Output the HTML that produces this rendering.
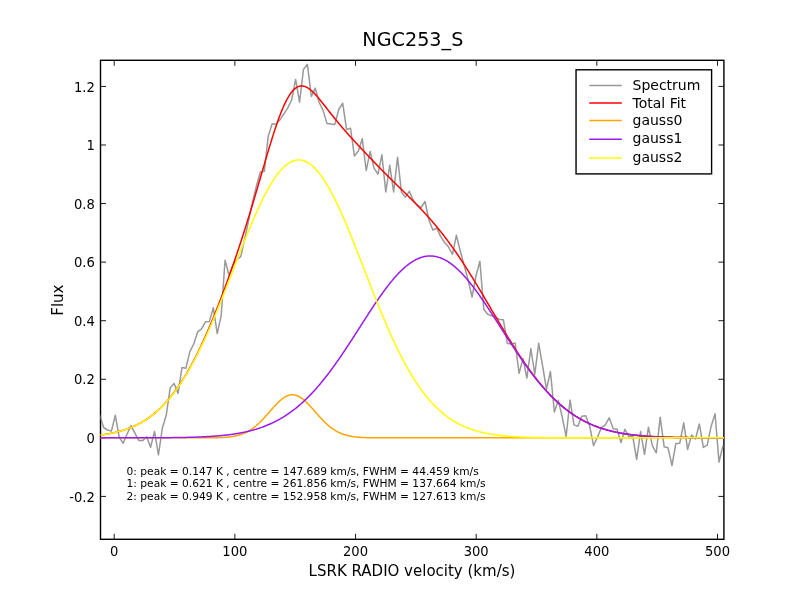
<!DOCTYPE html>
<html><head><meta charset="utf-8"><title>NGC253_S</title>
<style>
html,body{margin:0;padding:0;background:#fff;}
svg{display:block;will-change:transform;}
text{font-family:'DejaVu Sans', 'Liberation Sans', sans-serif;fill:#000;}
</style></head><body>
<svg width="804" height="606" viewBox="0 0 804 606">
<rect x="0" y="0" width="804" height="606" fill="#fff"/>
<defs><clipPath id="ax"><rect x="100.5" y="60.3" width="623.40" height="479.00"/></clipPath></defs>
<path d="M114.20,539.3 V533.80 M114.20,60.3 V65.80 M234.86,539.3 V533.80 M234.86,60.3 V65.80 M355.52,539.3 V533.80 M355.52,60.3 V65.80 M476.18,539.3 V533.80 M476.18,60.3 V65.80 M596.84,539.3 V533.80 M596.84,60.3 V65.80 M717.50,539.3 V533.80 M717.50,60.3 V65.80 M100.5,496.42 H106.00 M723.9,496.42 H718.40 M100.5,437.85 H106.00 M723.9,437.85 H718.40 M100.5,379.28 H106.00 M723.9,379.28 H718.40 M100.5,320.71 H106.00 M723.9,320.71 H718.40 M100.5,262.13 H106.00 M723.9,262.13 H718.40 M100.5,203.56 H106.00 M723.9,203.56 H718.40 M100.5,144.99 H106.00 M723.9,144.99 H718.40 M100.5,86.42 H106.00 M723.9,86.42 H718.40" stroke="#000" stroke-width="0.9" fill="none"/>
<rect x="100.5" y="60.3" width="623.40" height="479.00" fill="none" stroke="#000" stroke-width="1.4"/>
<g clip-path="url(#ax)" fill="none" stroke-linejoin="round" stroke-linecap="butt">
<path d="M99.64,414.60 L103.56,427.50 L107.48,430.00 L111.40,431.10 L115.32,415.30 L119.24,437.30 L123.16,443.30 L127.08,434.00 L131.00,425.60 L134.92,433.20 L138.84,440.60 L142.76,440.60 L146.68,436.80 L150.60,447.20 L154.52,431.40 L158.44,455.00 L162.36,428.00 L166.28,415.00 L170.20,387.80 L174.12,383.50 L178.04,393.40 L181.96,367.60 L185.88,368.30 L189.80,351.80 L193.72,344.00 L197.64,331.90 L201.56,328.80 L205.48,321.80 L209.40,321.40 L213.32,307.60 L217.24,333.60 L221.16,315.70 L225.08,260.20 L229.00,275.00 L232.92,265.00 L236.84,259.50 L240.76,256.60 L244.68,239.20 L248.60,220.60 L252.52,202.00 L256.44,186.00 L260.36,172.00 L264.28,171.30 L268.20,136.40 L272.12,123.80 L276.04,124.30 L279.96,119.80 L283.88,113.90 L287.80,107.90 L291.72,99.70 L295.64,79.40 L299.56,102.20 L303.48,69.40 L307.40,64.30 L311.32,96.50 L315.24,88.10 L319.16,102.50 L323.08,110.40 L327.00,123.60 L330.92,124.00 L334.84,124.40 L338.76,109.50 L342.68,103.20 L346.60,129.60 L350.52,128.30 L354.44,156.00 L358.36,151.00 L362.28,138.80 L366.20,170.50 L370.12,151.50 L374.04,168.20 L377.96,174.20 L381.88,154.80 L385.80,191.90 L389.72,165.30 L393.64,191.90 L397.56,157.20 L401.48,192.30 L405.40,197.10 L409.32,191.40 L413.24,200.30 L417.16,205.20 L421.08,207.50 L425.00,201.50 L428.92,220.00 L432.84,230.00 L436.76,228.10 L440.68,236.60 L444.60,242.50 L448.52,247.00 L452.44,254.30 L456.36,235.30 L460.28,251.00 L464.20,265.50 L468.12,280.00 L472.04,297.00 L475.96,276.00 L479.88,261.30 L483.80,309.20 L487.72,314.30 L491.64,315.70 L495.56,317.50 L499.48,319.50 L503.40,319.80 L507.32,343.50 L511.24,344.00 L515.16,343.10 L519.08,373.30 L523.00,358.80 L526.92,378.00 L530.84,348.50 L534.76,374.40 L538.68,343.30 L542.60,366.00 L546.52,389.20 L550.44,371.50 L554.36,412.00 L558.28,400.40 L562.20,417.00 L566.12,436.60 L570.04,400.00 L573.96,424.90 L577.88,426.20 L581.80,416.30 L585.72,415.80 L589.64,426.00 L593.56,445.70 L597.48,437.00 L601.40,427.70 L605.32,424.80 L609.24,417.80 L613.16,428.70 L617.08,429.20 L621.00,442.60 L624.92,429.30 L628.84,436.40 L632.76,436.40 L636.68,459.50 L640.60,431.40 L644.52,454.30 L648.44,427.20 L652.36,445.60 L656.28,452.80 L660.20,417.20 L664.12,446.70 L668.04,447.80 L671.96,465.50 L675.88,443.50 L679.80,443.20 L683.72,422.80 L687.64,449.40 L691.56,434.90 L695.48,439.00 L699.40,424.00 L703.32,447.40 L707.24,445.10 L711.16,426.20 L715.08,413.80 L719.00,462.10 L722.92,445.80" stroke="#999999" stroke-width="1.5"/>
<path d="M99.29,435.20 L99.90,435.12 L100.50,435.04 L101.10,434.96 L101.71,434.88 L102.31,434.80 L102.91,434.71 L103.52,434.63 L104.12,434.54 L104.72,434.44 L105.33,434.35 L105.93,434.25 L106.53,434.15 L107.14,434.05 L107.74,433.95 L108.34,433.84 L108.95,433.73 L109.55,433.62 L110.15,433.51 L110.76,433.39 L111.36,433.27 L111.96,433.15 L112.57,433.02 L113.17,432.89 L113.77,432.76 L114.38,432.63 L114.98,432.49 L115.58,432.35 L116.19,432.20 L116.79,432.06 L117.39,431.91 L118.00,431.75 L118.60,431.59 L119.20,431.43 L119.81,431.27 L120.41,431.10 L121.01,430.93 L121.62,430.75 L122.22,430.57 L122.82,430.39 L123.43,430.20 L124.03,430.01 L124.63,429.82 L125.24,429.62 L125.84,429.41 L126.44,429.21 L127.05,428.99 L127.65,428.78 L128.25,428.55 L128.86,428.33 L129.46,428.10 L130.06,427.86 L130.66,427.62 L131.27,427.38 L131.87,427.12 L132.47,426.87 L133.08,426.61 L133.68,426.34 L134.28,426.07 L134.89,425.80 L135.49,425.51 L136.09,425.23 L136.70,424.93 L137.30,424.64 L137.90,424.33 L138.51,424.02 L139.11,423.70 L139.71,423.38 L140.32,423.05 L140.92,422.72 L141.52,422.38 L142.13,422.03 L142.73,421.68 L143.33,421.32 L143.94,420.95 L144.54,420.58 L145.14,420.20 L145.75,419.81 L146.35,419.42 L146.95,419.02 L147.56,418.61 L148.16,418.20 L148.76,417.77 L149.37,417.34 L149.97,416.91 L150.57,416.46 L151.18,416.01 L151.78,415.55 L152.38,415.09 L152.99,414.61 L153.59,414.13 L154.19,413.64 L154.80,413.14 L155.40,412.63 L156.00,412.11 L156.61,411.59 L157.21,411.06 L157.81,410.52 L158.42,409.97 L159.02,409.41 L159.62,408.84 L160.23,408.27 L160.83,407.68 L161.43,407.09 L162.04,406.49 L162.64,405.88 L163.24,405.26 L163.85,404.63 L164.45,403.99 L165.05,403.34 L165.66,402.68 L166.26,402.01 L166.86,401.34 L167.47,400.65 L168.07,399.95 L168.67,399.25 L169.28,398.53 L169.88,397.81 L170.48,397.07 L171.09,396.32 L171.69,395.57 L172.29,394.80 L172.90,394.03 L173.50,393.24 L174.10,392.44 L174.71,391.63 L175.31,390.82 L175.91,389.99 L176.52,389.15 L177.12,388.30 L177.72,387.44 L178.33,386.57 L178.93,385.69 L179.53,384.80 L180.14,383.90 L180.74,382.98 L181.34,382.06 L181.95,381.12 L182.55,380.18 L183.15,379.22 L183.76,378.26 L184.36,377.28 L184.96,376.29 L185.57,375.29 L186.17,374.28 L186.77,373.26 L187.38,372.22 L187.98,371.18 L188.58,370.12 L189.19,369.06 L189.79,367.98 L190.39,366.89 L191.00,365.80 L191.60,364.69 L192.20,363.57 L192.80,362.44 L193.41,361.29 L194.01,360.14 L194.61,358.98 L195.22,357.80 L195.82,356.62 L196.42,355.42 L197.03,354.22 L197.63,353.00 L198.23,351.77 L198.84,350.53 L199.44,349.28 L200.04,348.02 L200.65,346.75 L201.25,345.47 L201.85,344.18 L202.46,342.88 L203.06,341.57 L203.66,340.25 L204.27,338.92 L204.87,337.58 L205.47,336.23 L206.08,334.86 L206.68,333.49 L207.28,332.11 L207.89,330.72 L208.49,329.32 L209.09,327.91 L209.70,326.49 L210.30,325.06 L210.90,323.63 L211.51,322.18 L212.11,320.72 L212.71,319.26 L213.32,317.78 L213.92,316.30 L214.52,314.81 L215.13,313.31 L215.73,311.80 L216.33,310.28 L216.94,308.75 L217.54,307.22 L218.14,305.67 L218.75,304.12 L219.35,302.56 L219.95,300.99 L220.56,299.42 L221.16,297.83 L221.76,296.24 L222.37,294.64 L222.97,293.03 L223.57,291.41 L224.18,289.79 L224.78,288.16 L225.38,286.51 L225.99,284.87 L226.59,283.21 L227.19,281.55 L227.80,279.88 L228.40,278.20 L229.00,276.51 L229.61,274.82 L230.21,273.11 L230.81,271.40 L231.42,269.69 L232.02,267.96 L232.62,266.23 L233.23,264.49 L233.83,262.74 L234.43,260.98 L235.04,259.22 L235.64,257.44 L236.24,255.66 L236.85,253.87 L237.45,252.08 L238.05,250.27 L238.66,248.46 L239.26,246.64 L239.86,244.81 L240.47,242.97 L241.07,241.12 L241.67,239.27 L242.28,237.41 L242.88,235.53 L243.48,233.65 L244.09,231.77 L244.69,229.87 L245.29,227.96 L245.90,226.05 L246.50,224.12 L247.10,222.19 L247.71,220.25 L248.31,218.30 L248.91,216.35 L249.52,214.38 L250.12,212.41 L250.72,210.43 L251.32,208.44 L251.93,206.44 L252.53,204.44 L253.13,202.43 L253.74,200.41 L254.34,198.38 L254.94,196.35 L255.55,194.31 L256.15,192.27 L256.75,190.22 L257.36,188.17 L257.96,186.11 L258.56,184.05 L259.17,181.99 L259.77,179.92 L260.37,177.85 L260.98,175.78 L261.58,173.71 L262.18,171.63 L262.79,169.56 L263.39,167.49 L263.99,165.43 L264.60,163.36 L265.20,161.30 L265.80,159.25 L266.41,157.20 L267.01,155.16 L267.61,153.13 L268.22,151.10 L268.82,149.09 L269.42,147.09 L270.03,145.10 L270.63,143.12 L271.23,141.16 L271.84,139.22 L272.44,137.29 L273.04,135.38 L273.65,133.49 L274.25,131.63 L274.85,129.78 L275.46,127.96 L276.06,126.16 L276.66,124.39 L277.27,122.65 L277.87,120.94 L278.47,119.26 L279.08,117.60 L279.68,115.98 L280.28,114.40 L280.89,112.85 L281.49,111.33 L282.09,109.86 L282.70,108.42 L283.30,107.01 L283.90,105.65 L284.51,104.33 L285.11,103.06 L285.71,101.82 L286.32,100.63 L286.92,99.48 L287.52,98.38 L288.13,97.32 L288.73,96.31 L289.33,95.35 L289.94,94.43 L290.54,93.56 L291.14,92.73 L291.75,91.96 L292.35,91.23 L292.95,90.55 L293.56,89.92 L294.16,89.34 L294.76,88.80 L295.37,88.31 L295.97,87.87 L296.57,87.48 L297.18,87.13 L297.78,86.83 L298.38,86.57 L298.99,86.36 L299.59,86.20 L300.19,86.07 L300.80,85.99 L301.40,85.96 L302.00,85.96 L302.61,86.00 L303.21,86.09 L303.81,86.21 L304.42,86.37 L305.02,86.57 L305.62,86.80 L306.23,87.06 L306.83,87.36 L307.43,87.69 L308.04,88.05 L308.64,88.45 L309.24,88.87 L309.85,89.31 L310.45,89.79 L311.05,90.28 L311.65,90.81 L312.26,91.35 L312.86,91.91 L313.46,92.50 L314.07,93.10 L314.67,93.73 L315.27,94.36 L315.88,95.02 L316.48,95.69 L317.08,96.37 L317.69,97.06 L318.29,97.77 L318.89,98.48 L319.50,99.21 L320.10,99.94 L320.70,100.68 L321.31,101.43 L321.91,102.18 L322.51,102.94 L323.12,103.70 L323.72,104.47 L324.32,105.23 L324.93,106.01 L325.53,106.78 L326.13,107.55 L326.74,108.33 L327.34,109.10 L327.94,109.88 L328.55,110.65 L329.15,111.42 L329.75,112.19 L330.36,112.96 L330.96,113.73 L331.56,114.49 L332.17,115.25 L332.77,116.01 L333.37,116.77 L333.98,117.52 L334.58,118.27 L335.18,119.02 L335.79,119.76 L336.39,120.50 L336.99,121.23 L337.60,121.96 L338.20,122.69 L338.80,123.42 L339.41,124.14 L340.01,124.85 L340.61,125.57 L341.22,126.28 L341.82,126.99 L342.42,127.69 L343.03,128.39 L343.63,129.09 L344.23,129.78 L344.84,130.47 L345.44,131.16 L346.04,131.85 L346.65,132.53 L347.25,133.21 L347.85,133.89 L348.46,134.57 L349.06,135.24 L349.66,135.91 L350.27,136.58 L350.87,137.25 L351.47,137.91 L352.08,138.58 L352.68,139.24 L353.28,139.90 L353.89,140.56 L354.49,141.22 L355.09,141.87 L355.70,142.53 L356.30,143.18 L356.90,143.84 L357.51,144.49 L358.11,145.14 L358.71,145.79 L359.32,146.44 L359.92,147.08 L360.52,147.73 L361.13,148.37 L361.73,149.02 L362.33,149.66 L362.94,150.31 L363.54,150.95 L364.14,151.59 L364.75,152.23 L365.35,152.87 L365.95,153.51 L366.56,154.15 L367.16,154.79 L367.76,155.42 L368.37,156.06 L368.97,156.69 L369.57,157.33 L370.18,157.96 L370.78,158.59 L371.38,159.22 L371.98,159.85 L372.59,160.48 L373.19,161.11 L373.79,161.74 L374.40,162.36 L375.00,162.99 L375.60,163.61 L376.21,164.24 L376.81,164.86 L377.41,165.48 L378.02,166.10 L378.62,166.72 L379.22,167.34 L379.83,167.96 L380.43,168.57 L381.03,169.19 L381.64,169.80 L382.24,170.41 L382.84,171.03 L383.45,171.64 L384.05,172.25 L384.65,172.85 L385.26,173.46 L385.86,174.07 L386.46,174.67 L387.07,175.28 L387.67,175.88 L388.27,176.48 L388.88,177.08 L389.48,177.68 L390.08,178.28 L390.69,178.88 L391.29,179.48 L391.89,180.08 L392.50,180.67 L393.10,181.27 L393.70,181.86 L394.31,182.46 L394.91,183.05 L395.51,183.64 L396.12,184.24 L396.72,184.83 L397.32,185.42 L397.93,186.01 L398.53,186.60 L399.13,187.19 L399.74,187.78 L400.34,188.37 L400.94,188.96 L401.55,189.55 L402.15,190.15 L402.75,190.74 L403.36,191.33 L403.96,191.92 L404.56,192.51 L405.17,193.10 L405.77,193.70 L406.37,194.29 L406.98,194.88 L407.58,195.48 L408.18,196.08 L408.79,196.67 L409.39,197.27 L409.99,197.87 L410.60,198.47 L411.20,199.07 L411.80,199.67 L412.41,200.28 L413.01,200.88 L413.61,201.49 L414.22,202.10 L414.82,202.71 L415.42,203.32 L416.03,203.94 L416.63,204.55 L417.23,205.17 L417.84,205.79 L418.44,206.42 L419.04,207.04 L419.65,207.67 L420.25,208.30 L420.85,208.93 L421.46,209.57 L422.06,210.21 L422.66,210.85 L423.27,211.49 L423.87,212.14 L424.47,212.79 L425.08,213.44 L425.68,214.10 L426.28,214.76 L426.89,215.42 L427.49,216.09 L428.09,216.76 L428.70,217.43 L429.30,218.11 L429.90,218.79 L430.51,219.48 L431.11,220.16 L431.71,220.86 L432.31,221.55 L432.92,222.25 L433.52,222.96 L434.12,223.66 L434.73,224.38 L435.33,225.09 L435.93,225.81 L436.54,226.54 L437.14,227.27 L437.74,228.00 L438.35,228.74 L438.95,229.48 L439.55,230.23 L440.16,230.98 L440.76,231.74 L441.36,232.50 L441.97,233.26 L442.57,234.03 L443.17,234.80 L443.78,235.58 L444.38,236.37 L444.98,237.15 L445.59,237.95 L446.19,238.74 L446.79,239.55 L447.40,240.35 L448.00,241.17 L448.60,241.98 L449.21,242.80 L449.81,243.63 L450.41,244.46 L451.02,245.29 L451.62,246.13 L452.22,246.98 L452.83,247.83 L453.43,248.68 L454.03,249.54 L454.64,250.40 L455.24,251.27 L455.84,252.14 L456.45,253.01 L457.05,253.90 L457.65,254.78 L458.26,255.67 L458.86,256.56 L459.46,257.46 L460.07,258.36 L460.67,259.27 L461.27,260.18 L461.88,261.10 L462.48,262.02 L463.08,262.94 L463.69,263.87 L464.29,264.80 L464.89,265.73 L465.50,266.67 L466.10,267.61 L466.70,268.56 L467.31,269.51 L467.91,270.46 L468.51,271.42 L469.12,272.38 L469.72,273.34 L470.32,274.31 L470.93,275.28 L471.53,276.25 L472.13,277.23 L472.74,278.21 L473.34,279.19 L473.94,280.18 L474.55,281.16 L475.15,282.15 L475.75,283.15 L476.36,284.14 L476.96,285.14 L477.56,286.14 L478.17,287.14 L478.77,288.14 L479.37,289.15 L479.98,290.16 L480.58,291.17 L481.18,292.18 L481.79,293.19 L482.39,294.21 L482.99,295.22 L483.60,296.24 L484.20,297.26 L484.80,298.28 L485.41,299.30 L486.01,300.32 L486.61,301.34 L487.22,302.37 L487.82,303.39 L488.42,304.41 L489.03,305.44 L489.63,306.46 L490.23,307.49 L490.84,308.51 L491.44,309.54 L492.04,310.56 L492.64,311.59 L493.25,312.61 L493.85,313.63 L494.45,314.66 L495.06,315.68 L495.66,316.70 L496.26,317.72 L496.87,318.74 L497.47,319.76 L498.07,320.78 L498.68,321.80 L499.28,322.81 L499.88,323.83 L500.49,324.84 L501.09,325.85 L501.69,326.86 L502.30,327.86 L502.90,328.87 L503.50,329.87 L504.11,330.87 L504.71,331.87 L505.31,332.87 L505.92,333.86 L506.52,334.85 L507.12,335.84 L507.73,336.82 L508.33,337.81 L508.93,338.79 L509.54,339.76 L510.14,340.74 L510.74,341.71 L511.35,342.67 L511.95,343.64 L512.55,344.60 L513.16,345.55 L513.76,346.51 L514.36,347.46 L514.97,348.40 L515.57,349.34 L516.17,350.28 L516.78,351.21 L517.38,352.14 L517.98,353.07 L518.59,353.99 L519.19,354.91 L519.79,355.82 L520.40,356.73 L521.00,357.63 L521.60,358.53 L522.21,359.42 L522.81,360.31 L523.41,361.20 L524.02,362.08 L524.62,362.95 L525.22,363.82 L525.83,364.69 L526.43,365.55 L527.03,366.40 L527.64,367.25 L528.24,368.10 L528.84,368.93 L529.45,369.77 L530.05,370.60 L530.65,371.42 L531.26,372.24 L531.86,373.05 L532.46,373.85 L533.07,374.66 L533.67,375.45 L534.27,376.24 L534.88,377.02 L535.48,377.80 L536.08,378.57 L536.69,379.34 L537.29,380.10 L537.89,380.85 L538.50,381.60 L539.10,382.35 L539.70,383.08 L540.31,383.81 L540.91,384.54 L541.51,385.26 L542.12,385.97 L542.72,386.68 L543.32,387.38 L543.93,388.07 L544.53,388.76 L545.13,389.45 L545.74,390.12 L546.34,390.79 L546.94,391.46 L547.55,392.11 L548.15,392.77 L548.75,393.41 L549.36,394.05 L549.96,394.69 L550.56,395.31 L551.17,395.94 L551.77,396.55 L552.37,397.16 L552.97,397.76 L553.58,398.36 L554.18,398.95 L554.78,399.54 L555.39,400.11 L555.99,400.69 L556.59,401.25 L557.20,401.81 L557.80,402.37 L558.40,402.92 L559.01,403.46 L559.61,404.00 L560.21,404.53 L560.82,405.05 L561.42,405.57 L562.02,406.08 L562.63,406.59 L563.23,407.09 L563.83,407.58 L564.44,408.07 L565.04,408.56 L565.64,409.03 L566.25,409.51 L566.85,409.97 L567.45,410.43 L568.06,410.89 L568.66,411.34 L569.26,411.78 L569.87,412.22 L570.47,412.65 L571.07,413.08 L571.68,413.50 L572.28,413.92 L572.88,414.33 L573.49,414.73 L574.09,415.13 L574.69,415.53 L575.30,415.92 L575.90,416.30 L576.50,416.68 L577.11,417.05 L577.71,417.42 L578.31,417.79 L578.92,418.14 L579.52,418.50 L580.12,418.85 L580.73,419.19 L581.33,419.53 L581.93,419.86 L582.54,420.19 L583.14,420.52 L583.74,420.84 L584.35,421.15 L584.95,421.46 L585.55,421.77 L586.16,422.07 L586.76,422.36 L587.36,422.66 L587.97,422.94 L588.57,423.23 L589.17,423.51 L589.78,423.78 L590.38,424.05 L590.98,424.32 L591.59,424.58 L592.19,424.84 L592.79,425.09 L593.40,425.34 L594.00,425.59 L594.60,425.83 L595.21,426.07 L595.81,426.30 L596.41,426.53 L597.02,426.76 L597.62,426.98 L598.22,427.20 L598.83,427.42 L599.43,427.63 L600.03,427.84 L600.64,428.04 L601.24,428.24 L601.84,428.44 L602.45,428.63 L603.05,428.82 L603.65,429.01 L604.26,429.20 L604.86,429.38 L605.46,429.56 L606.07,429.73 L606.67,429.90 L607.27,430.07 L607.88,430.24 L608.48,430.40 L609.08,430.56 L609.69,430.72 L610.29,430.87 L610.89,431.02 L611.50,431.17 L612.10,431.31 L612.70,431.46 L613.30,431.60 L613.91,431.74 L614.51,431.87 L615.11,432.00 L615.72,432.13 L616.32,432.26 L616.92,432.39 L617.53,432.51 L618.13,432.63 L618.73,432.75 L619.34,432.86 L619.94,432.97 L620.54,433.09 L621.15,433.20 L621.75,433.30 L622.35,433.41 L622.96,433.51 L623.56,433.61 L624.16,433.71 L624.77,433.80 L625.37,433.90 L625.97,433.99 L626.58,434.08 L627.18,434.17 L627.78,434.26 L628.39,434.34 L628.99,434.43 L629.59,434.51 L630.20,434.59 L630.80,434.67 L631.40,434.74 L632.01,434.82 L632.61,434.89 L633.21,434.96 L633.82,435.03 L634.42,435.10 L635.02,435.17 L635.63,435.24 L636.23,435.30 L636.83,435.36 L637.44,435.42 L638.04,435.49 L638.64,435.54 L639.25,435.60 L639.85,435.66 L640.45,435.71 L641.06,435.77 L641.66,435.82 L642.26,435.87 L642.87,435.92 L643.47,435.97 L644.07,436.02 L644.68,436.07 L645.28,436.11 L645.88,436.16 L646.49,436.20 L647.09,436.24 L647.69,436.28 L648.30,436.33 L648.90,436.37 L649.50,436.40 L650.11,436.44 L650.71,436.48 L651.31,436.52 L651.92,436.55 L652.52,436.59 L653.12,436.62 L653.73,436.65 L654.33,436.68 L654.93,436.72 L655.54,436.75 L656.14,436.78 L656.74,436.80 L657.35,436.83 L657.95,436.86 L658.55,436.89 L659.16,436.91 L659.76,436.94 L660.36,436.96 L660.97,436.99 L661.57,437.01 L662.17,437.04 L662.78,437.06 L663.38,437.08 L663.98,437.10 L664.59,437.12 L665.19,437.14 L665.79,437.16 L666.40,437.18 L667.00,437.20 L667.60,437.22 L668.21,437.24 L668.81,437.26 L669.41,437.27 L670.02,437.29 L670.62,437.31 L671.22,437.32 L671.83,437.34 L672.43,437.35 L673.03,437.37 L673.63,437.38 L674.24,437.39 L674.84,437.41 L675.44,437.42 L676.05,437.43 L676.65,437.44 L677.25,437.46 L677.86,437.47 L678.46,437.48 L679.06,437.49 L679.67,437.50 L680.27,437.51 L680.87,437.52 L681.48,437.53 L682.08,437.54 L682.68,437.55 L683.29,437.56 L683.89,437.57 L684.49,437.58 L685.10,437.59 L685.70,437.59 L686.30,437.60 L686.91,437.61 L687.51,437.62 L688.11,437.62 L688.72,437.63 L689.32,437.64 L689.92,437.64 L690.53,437.65 L691.13,437.66 L691.73,437.66 L692.34,437.67 L692.94,437.67 L693.54,437.68 L694.15,437.68 L694.75,437.69 L695.35,437.69 L695.96,437.70 L696.56,437.70 L697.16,437.71 L697.77,437.71 L698.37,437.72 L698.97,437.72 L699.58,437.73 L700.18,437.73 L700.78,437.73 L701.39,437.74 L701.99,437.74 L702.59,437.75 L703.20,437.75 L703.80,437.75 L704.40,437.76 L705.01,437.76 L705.61,437.76 L706.21,437.76 L706.82,437.77 L707.42,437.77 L708.02,437.77 L708.63,437.77 L709.23,437.78 L709.83,437.78 L710.44,437.78 L711.04,437.78 L711.64,437.79 L712.25,437.79 L712.85,437.79 L713.45,437.79 L714.06,437.79 L714.66,437.80 L715.26,437.80 L715.87,437.80 L716.47,437.80 L717.07,437.80 L717.68,437.81 L718.28,437.81 L718.88,437.81 L719.49,437.81 L720.09,437.81 L720.69,437.81 L721.30,437.81 L721.90,437.81 L722.50,437.82 L723.11,437.82 L723.71,437.82 L724.31,437.82 L724.92,437.82" stroke="#ff0000" stroke-width="1.5"/>
<path d="M99.29,437.85 L99.90,437.85 L100.50,437.85 L101.10,437.85 L101.71,437.85 L102.31,437.85 L102.91,437.85 L103.52,437.85 L104.12,437.85 L104.72,437.85 L105.33,437.85 L105.93,437.85 L106.53,437.85 L107.14,437.85 L107.74,437.85 L108.34,437.85 L108.95,437.85 L109.55,437.85 L110.15,437.85 L110.76,437.85 L111.36,437.85 L111.96,437.85 L112.57,437.85 L113.17,437.85 L113.77,437.85 L114.38,437.85 L114.98,437.85 L115.58,437.85 L116.19,437.85 L116.79,437.85 L117.39,437.85 L118.00,437.85 L118.60,437.85 L119.20,437.85 L119.81,437.85 L120.41,437.85 L121.01,437.85 L121.62,437.85 L122.22,437.85 L122.82,437.85 L123.43,437.85 L124.03,437.85 L124.63,437.85 L125.24,437.85 L125.84,437.85 L126.44,437.85 L127.05,437.85 L127.65,437.85 L128.25,437.85 L128.86,437.85 L129.46,437.85 L130.06,437.85 L130.66,437.85 L131.27,437.85 L131.87,437.85 L132.47,437.85 L133.08,437.85 L133.68,437.85 L134.28,437.85 L134.89,437.85 L135.49,437.85 L136.09,437.85 L136.70,437.85 L137.30,437.85 L137.90,437.85 L138.51,437.85 L139.11,437.85 L139.71,437.85 L140.32,437.85 L140.92,437.85 L141.52,437.85 L142.13,437.85 L142.73,437.85 L143.33,437.85 L143.94,437.85 L144.54,437.85 L145.14,437.85 L145.75,437.85 L146.35,437.85 L146.95,437.85 L147.56,437.85 L148.16,437.85 L148.76,437.85 L149.37,437.85 L149.97,437.85 L150.57,437.85 L151.18,437.85 L151.78,437.85 L152.38,437.85 L152.99,437.85 L153.59,437.85 L154.19,437.85 L154.80,437.85 L155.40,437.85 L156.00,437.85 L156.61,437.85 L157.21,437.85 L157.81,437.85 L158.42,437.85 L159.02,437.85 L159.62,437.85 L160.23,437.85 L160.83,437.85 L161.43,437.85 L162.04,437.85 L162.64,437.85 L163.24,437.85 L163.85,437.85 L164.45,437.85 L165.05,437.85 L165.66,437.85 L166.26,437.85 L166.86,437.85 L167.47,437.85 L168.07,437.85 L168.67,437.85 L169.28,437.85 L169.88,437.85 L170.48,437.85 L171.09,437.85 L171.69,437.85 L172.29,437.85 L172.90,437.85 L173.50,437.85 L174.10,437.85 L174.71,437.85 L175.31,437.85 L175.91,437.85 L176.52,437.85 L177.12,437.85 L177.72,437.85 L178.33,437.85 L178.93,437.85 L179.53,437.85 L180.14,437.85 L180.74,437.85 L181.34,437.85 L181.95,437.85 L182.55,437.85 L183.15,437.85 L183.76,437.85 L184.36,437.85 L184.96,437.85 L185.57,437.85 L186.17,437.85 L186.77,437.85 L187.38,437.85 L187.98,437.85 L188.58,437.85 L189.19,437.85 L189.79,437.85 L190.39,437.85 L191.00,437.85 L191.60,437.85 L192.20,437.85 L192.80,437.85 L193.41,437.85 L194.01,437.85 L194.61,437.85 L195.22,437.85 L195.82,437.84 L196.42,437.84 L197.03,437.84 L197.63,437.84 L198.23,437.84 L198.84,437.84 L199.44,437.84 L200.04,437.84 L200.65,437.84 L201.25,437.84 L201.85,437.83 L202.46,437.83 L203.06,437.83 L203.66,437.83 L204.27,437.83 L204.87,437.82 L205.47,437.82 L206.08,437.82 L206.68,437.81 L207.28,437.81 L207.89,437.81 L208.49,437.80 L209.09,437.80 L209.70,437.79 L210.30,437.78 L210.90,437.78 L211.51,437.77 L212.11,437.76 L212.71,437.76 L213.32,437.75 L213.92,437.74 L214.52,437.73 L215.13,437.71 L215.73,437.70 L216.33,437.69 L216.94,437.67 L217.54,437.66 L218.14,437.64 L218.75,437.62 L219.35,437.60 L219.95,437.58 L220.56,437.55 L221.16,437.53 L221.76,437.50 L222.37,437.47 L222.97,437.44 L223.57,437.40 L224.18,437.36 L224.78,437.32 L225.38,437.28 L225.99,437.24 L226.59,437.19 L227.19,437.13 L227.80,437.08 L228.40,437.02 L229.00,436.95 L229.61,436.89 L230.21,436.81 L230.81,436.74 L231.42,436.65 L232.02,436.57 L232.62,436.47 L233.23,436.38 L233.83,436.27 L234.43,436.16 L235.04,436.04 L235.64,435.92 L236.24,435.79 L236.85,435.65 L237.45,435.50 L238.05,435.35 L238.66,435.19 L239.26,435.02 L239.86,434.84 L240.47,434.65 L241.07,434.45 L241.67,434.24 L242.28,434.03 L242.88,433.80 L243.48,433.56 L244.09,433.31 L244.69,433.05 L245.29,432.78 L245.90,432.49 L246.50,432.20 L247.10,431.89 L247.71,431.57 L248.31,431.24 L248.91,430.89 L249.52,430.53 L250.12,430.16 L250.72,429.78 L251.32,429.38 L251.93,428.97 L252.53,428.54 L253.13,428.10 L253.74,427.65 L254.34,427.19 L254.94,426.71 L255.55,426.22 L256.15,425.71 L256.75,425.19 L257.36,424.66 L257.96,424.12 L258.56,423.56 L259.17,423.00 L259.77,422.42 L260.37,421.83 L260.98,421.22 L261.58,420.61 L262.18,419.99 L262.79,419.36 L263.39,418.72 L263.99,418.07 L264.60,417.41 L265.20,416.74 L265.80,416.07 L266.41,415.40 L267.01,414.72 L267.61,414.03 L268.22,413.35 L268.82,412.66 L269.42,411.96 L270.03,411.27 L270.63,410.58 L271.23,409.89 L271.84,409.21 L272.44,408.52 L273.04,407.85 L273.65,407.17 L274.25,406.51 L274.85,405.85 L275.46,405.20 L276.06,404.57 L276.66,403.94 L277.27,403.33 L277.87,402.72 L278.47,402.14 L279.08,401.57 L279.68,401.02 L280.28,400.48 L280.89,399.96 L281.49,399.47 L282.09,398.99 L282.70,398.53 L283.30,398.10 L283.90,397.69 L284.51,397.31 L285.11,396.95 L285.71,396.62 L286.32,396.31 L286.92,396.03 L287.52,395.78 L288.13,395.55 L288.73,395.36 L289.33,395.19 L289.94,395.05 L290.54,394.94 L291.14,394.87 L291.75,394.82 L292.35,394.80 L292.95,394.81 L293.56,394.85 L294.16,394.93 L294.76,395.03 L295.37,395.16 L295.97,395.32 L296.57,395.52 L297.18,395.73 L297.78,395.98 L298.38,396.26 L298.99,396.56 L299.59,396.89 L300.19,397.24 L300.80,397.63 L301.40,398.03 L302.00,398.46 L302.61,398.91 L303.21,399.38 L303.81,399.88 L304.42,400.39 L305.02,400.92 L305.62,401.47 L306.23,402.04 L306.83,402.62 L307.43,403.22 L308.04,403.83 L308.64,404.46 L309.24,405.09 L309.85,405.74 L310.45,406.39 L311.05,407.06 L311.65,407.73 L312.26,408.41 L312.86,409.09 L313.46,409.77 L314.07,410.46 L314.67,411.15 L315.27,411.84 L315.88,412.54 L316.48,413.23 L317.08,413.91 L317.69,414.60 L318.29,415.28 L318.89,415.96 L319.50,416.63 L320.10,417.29 L320.70,417.95 L321.31,418.60 L321.91,419.25 L322.51,419.88 L323.12,420.50 L323.72,421.12 L324.32,421.72 L324.93,422.32 L325.53,422.90 L326.13,423.47 L326.74,424.03 L327.34,424.57 L327.94,425.10 L328.55,425.62 L329.15,426.13 L329.75,426.63 L330.36,427.11 L330.96,427.57 L331.56,428.03 L332.17,428.47 L332.77,428.89 L333.37,429.31 L333.98,429.71 L334.58,430.10 L335.18,430.47 L335.79,430.83 L336.39,431.18 L336.99,431.51 L337.60,431.83 L338.20,432.14 L338.80,432.44 L339.41,432.73 L340.01,433.00 L340.61,433.26 L341.22,433.52 L341.82,433.76 L342.42,433.99 L343.03,434.21 L343.63,434.42 L344.23,434.62 L344.84,434.81 L345.44,434.99 L346.04,435.16 L346.65,435.32 L347.25,435.48 L347.85,435.62 L348.46,435.76 L349.06,435.90 L349.66,436.02 L350.27,436.14 L350.87,436.25 L351.47,436.36 L352.08,436.46 L352.68,436.55 L353.28,436.64 L353.89,436.72 L354.49,436.80 L355.09,436.87 L355.70,436.94 L356.30,437.01 L356.90,437.07 L357.51,437.12 L358.11,437.18 L358.71,437.23 L359.32,437.27 L359.92,437.32 L360.52,437.36 L361.13,437.40 L361.73,437.43 L362.33,437.46 L362.94,437.49 L363.54,437.52 L364.14,437.55 L364.75,437.57 L365.35,437.59 L365.95,437.62 L366.56,437.63 L367.16,437.65 L367.76,437.67 L368.37,437.68 L368.97,437.70 L369.57,437.71 L370.18,437.72 L370.78,437.73 L371.38,437.74 L371.98,437.75 L372.59,437.76 L373.19,437.77 L373.79,437.78 L374.40,437.78 L375.00,437.79 L375.60,437.80 L376.21,437.80 L376.81,437.81 L377.41,437.81 L378.02,437.81 L378.62,437.82 L379.22,437.82 L379.83,437.82 L380.43,437.83 L381.03,437.83 L381.64,437.83 L382.24,437.83 L382.84,437.83 L383.45,437.84 L384.05,437.84 L384.65,437.84 L385.26,437.84 L385.86,437.84 L386.46,437.84 L387.07,437.84 L387.67,437.84 L388.27,437.84 L388.88,437.84 L389.48,437.85 L390.08,437.85 L390.69,437.85 L391.29,437.85 L391.89,437.85 L392.50,437.85 L393.10,437.85 L393.70,437.85 L394.31,437.85 L394.91,437.85 L395.51,437.85 L396.12,437.85 L396.72,437.85 L397.32,437.85 L397.93,437.85 L398.53,437.85 L399.13,437.85 L399.74,437.85 L400.34,437.85 L400.94,437.85 L401.55,437.85 L402.15,437.85 L402.75,437.85 L403.36,437.85 L403.96,437.85 L404.56,437.85 L405.17,437.85 L405.77,437.85 L406.37,437.85 L406.98,437.85 L407.58,437.85 L408.18,437.85 L408.79,437.85 L409.39,437.85 L409.99,437.85 L410.60,437.85 L411.20,437.85 L411.80,437.85 L412.41,437.85 L413.01,437.85 L413.61,437.85 L414.22,437.85 L414.82,437.85 L415.42,437.85 L416.03,437.85 L416.63,437.85 L417.23,437.85 L417.84,437.85 L418.44,437.85 L419.04,437.85 L419.65,437.85 L420.25,437.85 L420.85,437.85 L421.46,437.85 L422.06,437.85 L422.66,437.85 L423.27,437.85 L423.87,437.85 L424.47,437.85 L425.08,437.85 L425.68,437.85 L426.28,437.85 L426.89,437.85 L427.49,437.85 L428.09,437.85 L428.70,437.85 L429.30,437.85 L429.90,437.85 L430.51,437.85 L431.11,437.85 L431.71,437.85 L432.31,437.85 L432.92,437.85 L433.52,437.85 L434.12,437.85 L434.73,437.85 L435.33,437.85 L435.93,437.85 L436.54,437.85 L437.14,437.85 L437.74,437.85 L438.35,437.85 L438.95,437.85 L439.55,437.85 L440.16,437.85 L440.76,437.85 L441.36,437.85 L441.97,437.85 L442.57,437.85 L443.17,437.85 L443.78,437.85 L444.38,437.85 L444.98,437.85 L445.59,437.85 L446.19,437.85 L446.79,437.85 L447.40,437.85 L448.00,437.85 L448.60,437.85 L449.21,437.85 L449.81,437.85 L450.41,437.85 L451.02,437.85 L451.62,437.85 L452.22,437.85 L452.83,437.85 L453.43,437.85 L454.03,437.85 L454.64,437.85 L455.24,437.85 L455.84,437.85 L456.45,437.85 L457.05,437.85 L457.65,437.85 L458.26,437.85 L458.86,437.85 L459.46,437.85 L460.07,437.85 L460.67,437.85 L461.27,437.85 L461.88,437.85 L462.48,437.85 L463.08,437.85 L463.69,437.85 L464.29,437.85 L464.89,437.85 L465.50,437.85 L466.10,437.85 L466.70,437.85 L467.31,437.85 L467.91,437.85 L468.51,437.85 L469.12,437.85 L469.72,437.85 L470.32,437.85 L470.93,437.85 L471.53,437.85 L472.13,437.85 L472.74,437.85 L473.34,437.85 L473.94,437.85 L474.55,437.85 L475.15,437.85 L475.75,437.85 L476.36,437.85 L476.96,437.85 L477.56,437.85 L478.17,437.85 L478.77,437.85 L479.37,437.85 L479.98,437.85 L480.58,437.85 L481.18,437.85 L481.79,437.85 L482.39,437.85 L482.99,437.85 L483.60,437.85 L484.20,437.85 L484.80,437.85 L485.41,437.85 L486.01,437.85 L486.61,437.85 L487.22,437.85 L487.82,437.85 L488.42,437.85 L489.03,437.85 L489.63,437.85 L490.23,437.85 L490.84,437.85 L491.44,437.85 L492.04,437.85 L492.64,437.85 L493.25,437.85 L493.85,437.85 L494.45,437.85 L495.06,437.85 L495.66,437.85 L496.26,437.85 L496.87,437.85 L497.47,437.85 L498.07,437.85 L498.68,437.85 L499.28,437.85 L499.88,437.85 L500.49,437.85 L501.09,437.85 L501.69,437.85 L502.30,437.85 L502.90,437.85 L503.50,437.85 L504.11,437.85 L504.71,437.85 L505.31,437.85 L505.92,437.85 L506.52,437.85 L507.12,437.85 L507.73,437.85 L508.33,437.85 L508.93,437.85 L509.54,437.85 L510.14,437.85 L510.74,437.85 L511.35,437.85 L511.95,437.85 L512.55,437.85 L513.16,437.85 L513.76,437.85 L514.36,437.85 L514.97,437.85 L515.57,437.85 L516.17,437.85 L516.78,437.85 L517.38,437.85 L517.98,437.85 L518.59,437.85 L519.19,437.85 L519.79,437.85 L520.40,437.85 L521.00,437.85 L521.60,437.85 L522.21,437.85 L522.81,437.85 L523.41,437.85 L524.02,437.85 L524.62,437.85 L525.22,437.85 L525.83,437.85 L526.43,437.85 L527.03,437.85 L527.64,437.85 L528.24,437.85 L528.84,437.85 L529.45,437.85 L530.05,437.85 L530.65,437.85 L531.26,437.85 L531.86,437.85 L532.46,437.85 L533.07,437.85 L533.67,437.85 L534.27,437.85 L534.88,437.85 L535.48,437.85 L536.08,437.85 L536.69,437.85 L537.29,437.85 L537.89,437.85 L538.50,437.85 L539.10,437.85 L539.70,437.85 L540.31,437.85 L540.91,437.85 L541.51,437.85 L542.12,437.85 L542.72,437.85 L543.32,437.85 L543.93,437.85 L544.53,437.85 L545.13,437.85 L545.74,437.85 L546.34,437.85 L546.94,437.85 L547.55,437.85 L548.15,437.85 L548.75,437.85 L549.36,437.85 L549.96,437.85 L550.56,437.85 L551.17,437.85 L551.77,437.85 L552.37,437.85 L552.97,437.85 L553.58,437.85 L554.18,437.85 L554.78,437.85 L555.39,437.85 L555.99,437.85 L556.59,437.85 L557.20,437.85 L557.80,437.85 L558.40,437.85 L559.01,437.85 L559.61,437.85 L560.21,437.85 L560.82,437.85 L561.42,437.85 L562.02,437.85 L562.63,437.85 L563.23,437.85 L563.83,437.85 L564.44,437.85 L565.04,437.85 L565.64,437.85 L566.25,437.85 L566.85,437.85 L567.45,437.85 L568.06,437.85 L568.66,437.85 L569.26,437.85 L569.87,437.85 L570.47,437.85 L571.07,437.85 L571.68,437.85 L572.28,437.85 L572.88,437.85 L573.49,437.85 L574.09,437.85 L574.69,437.85 L575.30,437.85 L575.90,437.85 L576.50,437.85 L577.11,437.85 L577.71,437.85 L578.31,437.85 L578.92,437.85 L579.52,437.85 L580.12,437.85 L580.73,437.85 L581.33,437.85 L581.93,437.85 L582.54,437.85 L583.14,437.85 L583.74,437.85 L584.35,437.85 L584.95,437.85 L585.55,437.85 L586.16,437.85 L586.76,437.85 L587.36,437.85 L587.97,437.85 L588.57,437.85 L589.17,437.85 L589.78,437.85 L590.38,437.85 L590.98,437.85 L591.59,437.85 L592.19,437.85 L592.79,437.85 L593.40,437.85 L594.00,437.85 L594.60,437.85 L595.21,437.85 L595.81,437.85 L596.41,437.85 L597.02,437.85 L597.62,437.85 L598.22,437.85 L598.83,437.85 L599.43,437.85 L600.03,437.85 L600.64,437.85 L601.24,437.85 L601.84,437.85 L602.45,437.85 L603.05,437.85 L603.65,437.85 L604.26,437.85 L604.86,437.85 L605.46,437.85 L606.07,437.85 L606.67,437.85 L607.27,437.85 L607.88,437.85 L608.48,437.85 L609.08,437.85 L609.69,437.85 L610.29,437.85 L610.89,437.85 L611.50,437.85 L612.10,437.85 L612.70,437.85 L613.30,437.85 L613.91,437.85 L614.51,437.85 L615.11,437.85 L615.72,437.85 L616.32,437.85 L616.92,437.85 L617.53,437.85 L618.13,437.85 L618.73,437.85 L619.34,437.85 L619.94,437.85 L620.54,437.85 L621.15,437.85 L621.75,437.85 L622.35,437.85 L622.96,437.85 L623.56,437.85 L624.16,437.85 L624.77,437.85 L625.37,437.85 L625.97,437.85 L626.58,437.85 L627.18,437.85 L627.78,437.85 L628.39,437.85 L628.99,437.85 L629.59,437.85 L630.20,437.85 L630.80,437.85 L631.40,437.85 L632.01,437.85 L632.61,437.85 L633.21,437.85 L633.82,437.85 L634.42,437.85 L635.02,437.85 L635.63,437.85 L636.23,437.85 L636.83,437.85 L637.44,437.85 L638.04,437.85 L638.64,437.85 L639.25,437.85 L639.85,437.85 L640.45,437.85 L641.06,437.85 L641.66,437.85 L642.26,437.85 L642.87,437.85 L643.47,437.85 L644.07,437.85 L644.68,437.85 L645.28,437.85 L645.88,437.85 L646.49,437.85 L647.09,437.85 L647.69,437.85 L648.30,437.85 L648.90,437.85 L649.50,437.85 L650.11,437.85 L650.71,437.85 L651.31,437.85 L651.92,437.85 L652.52,437.85 L653.12,437.85 L653.73,437.85 L654.33,437.85 L654.93,437.85 L655.54,437.85 L656.14,437.85 L656.74,437.85 L657.35,437.85 L657.95,437.85 L658.55,437.85 L659.16,437.85 L659.76,437.85 L660.36,437.85 L660.97,437.85 L661.57,437.85 L662.17,437.85 L662.78,437.85 L663.38,437.85 L663.98,437.85 L664.59,437.85 L665.19,437.85 L665.79,437.85 L666.40,437.85 L667.00,437.85 L667.60,437.85 L668.21,437.85 L668.81,437.85 L669.41,437.85 L670.02,437.85 L670.62,437.85 L671.22,437.85 L671.83,437.85 L672.43,437.85 L673.03,437.85 L673.63,437.85 L674.24,437.85 L674.84,437.85 L675.44,437.85 L676.05,437.85 L676.65,437.85 L677.25,437.85 L677.86,437.85 L678.46,437.85 L679.06,437.85 L679.67,437.85 L680.27,437.85 L680.87,437.85 L681.48,437.85 L682.08,437.85 L682.68,437.85 L683.29,437.85 L683.89,437.85 L684.49,437.85 L685.10,437.85 L685.70,437.85 L686.30,437.85 L686.91,437.85 L687.51,437.85 L688.11,437.85 L688.72,437.85 L689.32,437.85 L689.92,437.85 L690.53,437.85 L691.13,437.85 L691.73,437.85 L692.34,437.85 L692.94,437.85 L693.54,437.85 L694.15,437.85 L694.75,437.85 L695.35,437.85 L695.96,437.85 L696.56,437.85 L697.16,437.85 L697.77,437.85 L698.37,437.85 L698.97,437.85 L699.58,437.85 L700.18,437.85 L700.78,437.85 L701.39,437.85 L701.99,437.85 L702.59,437.85 L703.20,437.85 L703.80,437.85 L704.40,437.85 L705.01,437.85 L705.61,437.85 L706.21,437.85 L706.82,437.85 L707.42,437.85 L708.02,437.85 L708.63,437.85 L709.23,437.85 L709.83,437.85 L710.44,437.85 L711.04,437.85 L711.64,437.85 L712.25,437.85 L712.85,437.85 L713.45,437.85 L714.06,437.85 L714.66,437.85 L715.26,437.85 L715.87,437.85 L716.47,437.85 L717.07,437.85 L717.68,437.85 L718.28,437.85 L718.88,437.85 L719.49,437.85 L720.09,437.85 L720.69,437.85 L721.30,437.85 L721.90,437.85 L722.50,437.85 L723.11,437.85 L723.71,437.85 L724.31,437.85 L724.92,437.85" stroke="#ffa500" stroke-width="1.5"/>
<path d="M99.29,437.85 L99.90,437.85 L100.50,437.85 L101.10,437.85 L101.71,437.85 L102.31,437.85 L102.91,437.85 L103.52,437.85 L104.12,437.85 L104.72,437.85 L105.33,437.85 L105.93,437.85 L106.53,437.85 L107.14,437.84 L107.74,437.84 L108.34,437.84 L108.95,437.84 L109.55,437.84 L110.15,437.84 L110.76,437.84 L111.36,437.84 L111.96,437.84 L112.57,437.84 L113.17,437.84 L113.77,437.84 L114.38,437.84 L114.98,437.84 L115.58,437.84 L116.19,437.84 L116.79,437.84 L117.39,437.84 L118.00,437.84 L118.60,437.84 L119.20,437.84 L119.81,437.84 L120.41,437.84 L121.01,437.84 L121.62,437.84 L122.22,437.84 L122.82,437.84 L123.43,437.84 L124.03,437.84 L124.63,437.83 L125.24,437.83 L125.84,437.83 L126.44,437.83 L127.05,437.83 L127.65,437.83 L128.25,437.83 L128.86,437.83 L129.46,437.83 L130.06,437.83 L130.66,437.83 L131.27,437.83 L131.87,437.83 L132.47,437.83 L133.08,437.82 L133.68,437.82 L134.28,437.82 L134.89,437.82 L135.49,437.82 L136.09,437.82 L136.70,437.82 L137.30,437.82 L137.90,437.82 L138.51,437.81 L139.11,437.81 L139.71,437.81 L140.32,437.81 L140.92,437.81 L141.52,437.81 L142.13,437.81 L142.73,437.80 L143.33,437.80 L143.94,437.80 L144.54,437.80 L145.14,437.80 L145.75,437.80 L146.35,437.79 L146.95,437.79 L147.56,437.79 L148.16,437.79 L148.76,437.79 L149.37,437.78 L149.97,437.78 L150.57,437.78 L151.18,437.78 L151.78,437.77 L152.38,437.77 L152.99,437.77 L153.59,437.77 L154.19,437.76 L154.80,437.76 L155.40,437.76 L156.00,437.75 L156.61,437.75 L157.21,437.75 L157.81,437.74 L158.42,437.74 L159.02,437.74 L159.62,437.73 L160.23,437.73 L160.83,437.73 L161.43,437.72 L162.04,437.72 L162.64,437.71 L163.24,437.71 L163.85,437.70 L164.45,437.70 L165.05,437.69 L165.66,437.69 L166.26,437.68 L166.86,437.68 L167.47,437.67 L168.07,437.67 L168.67,437.66 L169.28,437.66 L169.88,437.65 L170.48,437.64 L171.09,437.64 L171.69,437.63 L172.29,437.62 L172.90,437.61 L173.50,437.61 L174.10,437.60 L174.71,437.59 L175.31,437.58 L175.91,437.58 L176.52,437.57 L177.12,437.56 L177.72,437.55 L178.33,437.54 L178.93,437.53 L179.53,437.52 L180.14,437.51 L180.74,437.50 L181.34,437.49 L181.95,437.48 L182.55,437.47 L183.15,437.45 L183.76,437.44 L184.36,437.43 L184.96,437.42 L185.57,437.40 L186.17,437.39 L186.77,437.38 L187.38,437.36 L187.98,437.35 L188.58,437.33 L189.19,437.32 L189.79,437.30 L190.39,437.29 L191.00,437.27 L191.60,437.25 L192.20,437.24 L192.80,437.22 L193.41,437.20 L194.01,437.18 L194.61,437.16 L195.22,437.14 L195.82,437.12 L196.42,437.10 L197.03,437.08 L197.63,437.06 L198.23,437.03 L198.84,437.01 L199.44,436.99 L200.04,436.96 L200.65,436.94 L201.25,436.91 L201.85,436.88 L202.46,436.86 L203.06,436.83 L203.66,436.80 L204.27,436.77 L204.87,436.74 L205.47,436.71 L206.08,436.68 L206.68,436.65 L207.28,436.61 L207.89,436.58 L208.49,436.55 L209.09,436.51 L209.70,436.47 L210.30,436.44 L210.90,436.40 L211.51,436.36 L212.11,436.32 L212.71,436.28 L213.32,436.24 L213.92,436.19 L214.52,436.15 L215.13,436.10 L215.73,436.06 L216.33,436.01 L216.94,435.96 L217.54,435.91 L218.14,435.86 L218.75,435.81 L219.35,435.76 L219.95,435.70 L220.56,435.65 L221.16,435.59 L221.76,435.54 L222.37,435.48 L222.97,435.42 L223.57,435.35 L224.18,435.29 L224.78,435.23 L225.38,435.16 L225.99,435.09 L226.59,435.02 L227.19,434.95 L227.80,434.88 L228.40,434.81 L229.00,434.73 L229.61,434.65 L230.21,434.58 L230.81,434.50 L231.42,434.41 L232.02,434.33 L232.62,434.25 L233.23,434.16 L233.83,434.07 L234.43,433.98 L235.04,433.89 L235.64,433.79 L236.24,433.69 L236.85,433.59 L237.45,433.49 L238.05,433.39 L238.66,433.29 L239.26,433.18 L239.86,433.07 L240.47,432.96 L241.07,432.85 L241.67,432.73 L242.28,432.61 L242.88,432.49 L243.48,432.37 L244.09,432.24 L244.69,432.11 L245.29,431.98 L245.90,431.85 L246.50,431.72 L247.10,431.58 L247.71,431.44 L248.31,431.29 L248.91,431.15 L249.52,431.00 L250.12,430.85 L250.72,430.69 L251.32,430.54 L251.93,430.38 L252.53,430.21 L253.13,430.05 L253.74,429.88 L254.34,429.71 L254.94,429.53 L255.55,429.35 L256.15,429.17 L256.75,428.99 L257.36,428.80 L257.96,428.61 L258.56,428.41 L259.17,428.22 L259.77,428.01 L260.37,427.81 L260.98,427.60 L261.58,427.39 L262.18,427.17 L262.79,426.95 L263.39,426.73 L263.99,426.50 L264.60,426.27 L265.20,426.04 L265.80,425.80 L266.41,425.56 L267.01,425.31 L267.61,425.06 L268.22,424.81 L268.82,424.55 L269.42,424.29 L270.03,424.02 L270.63,423.75 L271.23,423.48 L271.84,423.20 L272.44,422.91 L273.04,422.63 L273.65,422.33 L274.25,422.04 L274.85,421.74 L275.46,421.43 L276.06,421.12 L276.66,420.81 L277.27,420.49 L277.87,420.16 L278.47,419.83 L279.08,419.50 L279.68,419.16 L280.28,418.82 L280.89,418.47 L281.49,418.12 L282.09,417.76 L282.70,417.39 L283.30,417.03 L283.90,416.65 L284.51,416.27 L285.11,415.89 L285.71,415.50 L286.32,415.11 L286.92,414.71 L287.52,414.30 L288.13,413.89 L288.73,413.48 L289.33,413.06 L289.94,412.63 L290.54,412.20 L291.14,411.76 L291.75,411.32 L292.35,410.87 L292.95,410.42 L293.56,409.96 L294.16,409.50 L294.76,409.03 L295.37,408.55 L295.97,408.07 L296.57,407.58 L297.18,407.09 L297.78,406.59 L298.38,406.08 L298.99,405.57 L299.59,405.06 L300.19,404.54 L300.80,404.01 L301.40,403.47 L302.00,402.94 L302.61,402.39 L303.21,401.84 L303.81,401.28 L304.42,400.72 L305.02,400.15 L305.62,399.57 L306.23,398.99 L306.83,398.41 L307.43,397.81 L308.04,397.21 L308.64,396.61 L309.24,396.00 L309.85,395.38 L310.45,394.76 L311.05,394.13 L311.65,393.50 L312.26,392.86 L312.86,392.21 L313.46,391.56 L314.07,390.90 L314.67,390.24 L315.27,389.57 L315.88,388.89 L316.48,388.21 L317.08,387.52 L317.69,386.83 L318.29,386.13 L318.89,385.43 L319.50,384.72 L320.10,384.00 L320.70,383.28 L321.31,382.55 L321.91,381.82 L322.51,381.08 L323.12,380.34 L323.72,379.59 L324.32,378.84 L324.93,378.08 L325.53,377.31 L326.13,376.54 L326.74,375.76 L327.34,374.98 L327.94,374.20 L328.55,373.41 L329.15,372.61 L329.75,371.81 L330.36,371.00 L330.96,370.19 L331.56,369.37 L332.17,368.55 L332.77,367.73 L333.37,366.90 L333.98,366.06 L334.58,365.22 L335.18,364.38 L335.79,363.53 L336.39,362.68 L336.99,361.82 L337.60,360.96 L338.20,360.10 L338.80,359.23 L339.41,358.35 L340.01,357.48 L340.61,356.60 L341.22,355.71 L341.82,354.83 L342.42,353.93 L343.03,353.04 L343.63,352.14 L344.23,351.24 L344.84,350.34 L345.44,349.43 L346.04,348.52 L346.65,347.61 L347.25,346.69 L347.85,345.78 L348.46,344.86 L349.06,343.93 L349.66,343.01 L350.27,342.08 L350.87,341.15 L351.47,340.22 L352.08,339.29 L352.68,338.36 L353.28,337.42 L353.89,336.49 L354.49,335.55 L355.09,334.61 L355.70,333.67 L356.30,332.73 L356.90,331.79 L357.51,330.84 L358.11,329.90 L358.71,328.96 L359.32,328.01 L359.92,327.07 L360.52,326.13 L361.13,325.18 L361.73,324.24 L362.33,323.30 L362.94,322.36 L363.54,321.42 L364.14,320.48 L364.75,319.54 L365.35,318.60 L365.95,317.66 L366.56,316.73 L367.16,315.80 L367.76,314.86 L368.37,313.93 L368.97,313.01 L369.57,312.08 L370.18,311.16 L370.78,310.24 L371.38,309.32 L371.98,308.41 L372.59,307.50 L373.19,306.59 L373.79,305.68 L374.40,304.78 L375.00,303.88 L375.60,302.99 L376.21,302.10 L376.81,301.21 L377.41,300.33 L378.02,299.46 L378.62,298.58 L379.22,297.71 L379.83,296.85 L380.43,295.99 L381.03,295.14 L381.64,294.29 L382.24,293.45 L382.84,292.62 L383.45,291.79 L384.05,290.96 L384.65,290.14 L385.26,289.33 L385.86,288.53 L386.46,287.73 L387.07,286.94 L387.67,286.15 L388.27,285.37 L388.88,284.60 L389.48,283.84 L390.08,283.08 L390.69,282.34 L391.29,281.60 L391.89,280.86 L392.50,280.14 L393.10,279.42 L393.70,278.72 L394.31,278.02 L394.91,277.33 L395.51,276.64 L396.12,275.97 L396.72,275.31 L397.32,274.65 L397.93,274.01 L398.53,273.37 L399.13,272.75 L399.74,272.13 L400.34,271.53 L400.94,270.93 L401.55,270.34 L402.15,269.77 L402.75,269.20 L403.36,268.65 L403.96,268.10 L404.56,267.57 L405.17,267.05 L405.77,266.53 L406.37,266.03 L406.98,265.54 L407.58,265.06 L408.18,264.60 L408.79,264.14 L409.39,263.70 L409.99,263.26 L410.60,262.84 L411.20,262.43 L411.80,262.04 L412.41,261.65 L413.01,261.28 L413.61,260.92 L414.22,260.57 L414.82,260.23 L415.42,259.91 L416.03,259.60 L416.63,259.30 L417.23,259.01 L417.84,258.74 L418.44,258.48 L419.04,258.23 L419.65,257.99 L420.25,257.77 L420.85,257.56 L421.46,257.36 L422.06,257.18 L422.66,257.01 L423.27,256.85 L423.87,256.70 L424.47,256.57 L425.08,256.45 L425.68,256.35 L426.28,256.26 L426.89,256.18 L427.49,256.11 L428.09,256.06 L428.70,256.02 L429.30,256.00 L429.90,255.99 L430.51,255.99 L431.11,256.00 L431.71,256.03 L432.31,256.07 L432.92,256.12 L433.52,256.19 L434.12,256.27 L434.73,256.37 L435.33,256.47 L435.93,256.59 L436.54,256.73 L437.14,256.87 L437.74,257.03 L438.35,257.21 L438.95,257.39 L439.55,257.59 L440.16,257.80 L440.76,258.03 L441.36,258.27 L441.97,258.52 L442.57,258.78 L443.17,259.06 L443.78,259.34 L444.38,259.64 L444.98,259.96 L445.59,260.28 L446.19,260.62 L446.79,260.97 L447.40,261.34 L448.00,261.71 L448.60,262.10 L449.21,262.50 L449.81,262.91 L450.41,263.33 L451.02,263.77 L451.62,264.21 L452.22,264.67 L452.83,265.14 L453.43,265.62 L454.03,266.11 L454.64,266.61 L455.24,267.13 L455.84,267.65 L456.45,268.19 L457.05,268.73 L457.65,269.29 L458.26,269.86 L458.86,270.44 L459.46,271.02 L460.07,271.62 L460.67,272.23 L461.27,272.85 L461.88,273.47 L462.48,274.11 L463.08,274.76 L463.69,275.41 L464.29,276.08 L464.89,276.75 L465.50,277.44 L466.10,278.13 L466.70,278.83 L467.31,279.54 L467.91,280.25 L468.51,280.98 L469.12,281.71 L469.72,282.45 L470.32,283.20 L470.93,283.96 L471.53,284.73 L472.13,285.50 L472.74,286.28 L473.34,287.06 L473.94,287.86 L474.55,288.65 L475.15,289.46 L475.75,290.27 L476.36,291.09 L476.96,291.92 L477.56,292.75 L478.17,293.59 L478.77,294.43 L479.37,295.28 L479.98,296.13 L480.58,296.99 L481.18,297.85 L481.79,298.72 L482.39,299.59 L482.99,300.47 L483.60,301.35 L484.20,302.24 L484.80,303.13 L485.41,304.03 L486.01,304.92 L486.61,305.83 L487.22,306.73 L487.82,307.64 L488.42,308.55 L489.03,309.47 L489.63,310.39 L490.23,311.31 L490.84,312.23 L491.44,313.15 L492.04,314.08 L492.64,315.01 L493.25,315.94 L493.85,316.88 L494.45,317.81 L495.06,318.75 L495.66,319.69 L496.26,320.63 L496.87,321.57 L497.47,322.51 L498.07,323.45 L498.68,324.39 L499.28,325.33 L499.88,326.28 L500.49,327.22 L501.09,328.16 L501.69,329.11 L502.30,330.05 L502.90,330.99 L503.50,331.94 L504.11,332.88 L504.71,333.82 L505.31,334.76 L505.92,335.70 L506.52,336.63 L507.12,337.57 L507.73,338.51 L508.33,339.44 L508.93,340.37 L509.54,341.30 L510.14,342.23 L510.74,343.16 L511.35,344.08 L511.95,345.00 L512.55,345.92 L513.16,346.84 L513.76,347.75 L514.36,348.67 L514.97,349.58 L515.57,350.48 L516.17,351.39 L516.78,352.29 L517.38,353.18 L517.98,354.08 L518.59,354.97 L519.19,355.85 L519.79,356.74 L520.40,357.62 L521.00,358.49 L521.60,359.36 L522.21,360.23 L522.81,361.10 L523.41,361.96 L524.02,362.81 L524.62,363.67 L525.22,364.51 L525.83,365.36 L526.43,366.19 L527.03,367.03 L527.64,367.86 L528.24,368.68 L528.84,369.50 L529.45,370.32 L530.05,371.13 L530.65,371.94 L531.26,372.74 L531.86,373.53 L532.46,374.32 L533.07,375.11 L533.67,375.89 L534.27,376.66 L534.88,377.43 L535.48,378.20 L536.08,378.96 L536.69,379.71 L537.29,380.46 L537.89,381.20 L538.50,381.94 L539.10,382.67 L539.70,383.40 L540.31,384.12 L540.91,384.83 L541.51,385.54 L542.12,386.24 L542.72,386.94 L543.32,387.63 L543.93,388.32 L544.53,389.00 L545.13,389.67 L545.74,390.34 L546.34,391.01 L546.94,391.66 L547.55,392.31 L548.15,392.96 L548.75,393.60 L549.36,394.23 L549.96,394.86 L550.56,395.48 L551.17,396.10 L551.77,396.71 L552.37,397.31 L552.97,397.91 L553.58,398.50 L554.18,399.09 L554.78,399.67 L555.39,400.24 L555.99,400.81 L556.59,401.37 L557.20,401.93 L557.80,402.48 L558.40,403.02 L559.01,403.56 L559.61,404.09 L560.21,404.62 L560.82,405.14 L561.42,405.66 L562.02,406.17 L562.63,406.67 L563.23,407.17 L563.83,407.66 L564.44,408.15 L565.04,408.63 L565.64,409.10 L566.25,409.57 L566.85,410.04 L567.45,410.49 L568.06,410.95 L568.66,411.39 L569.26,411.83 L569.87,412.27 L570.47,412.70 L571.07,413.13 L571.68,413.55 L572.28,413.96 L572.88,414.37 L573.49,414.77 L574.09,415.17 L574.69,415.56 L575.30,415.95 L575.90,416.34 L576.50,416.71 L577.11,417.09 L577.71,417.45 L578.31,417.82 L578.92,418.17 L579.52,418.53 L580.12,418.87 L580.73,419.22 L581.33,419.55 L581.93,419.89 L582.54,420.21 L583.14,420.54 L583.74,420.86 L584.35,421.17 L584.95,421.48 L585.55,421.79 L586.16,422.09 L586.76,422.38 L587.36,422.67 L587.97,422.96 L588.57,423.24 L589.17,423.52 L589.78,423.80 L590.38,424.07 L590.98,424.33 L591.59,424.59 L592.19,424.85 L592.79,425.10 L593.40,425.35 L594.00,425.60 L594.60,425.84 L595.21,426.08 L595.81,426.31 L596.41,426.54 L597.02,426.77 L597.62,426.99 L598.22,427.21 L598.83,427.42 L599.43,427.63 L600.03,427.84 L600.64,428.05 L601.24,428.25 L601.84,428.45 L602.45,428.64 L603.05,428.83 L603.65,429.02 L604.26,429.20 L604.86,429.38 L605.46,429.56 L606.07,429.74 L606.67,429.91 L607.27,430.08 L607.88,430.24 L608.48,430.40 L609.08,430.56 L609.69,430.72 L610.29,430.87 L610.89,431.02 L611.50,431.17 L612.10,431.32 L612.70,431.46 L613.30,431.60 L613.91,431.74 L614.51,431.87 L615.11,432.01 L615.72,432.14 L616.32,432.26 L616.92,432.39 L617.53,432.51 L618.13,432.63 L618.73,432.75 L619.34,432.86 L619.94,432.98 L620.54,433.09 L621.15,433.20 L621.75,433.30 L622.35,433.41 L622.96,433.51 L623.56,433.61 L624.16,433.71 L624.77,433.81 L625.37,433.90 L625.97,433.99 L626.58,434.08 L627.18,434.17 L627.78,434.26 L628.39,434.34 L628.99,434.43 L629.59,434.51 L630.20,434.59 L630.80,434.67 L631.40,434.74 L632.01,434.82 L632.61,434.89 L633.21,434.96 L633.82,435.03 L634.42,435.10 L635.02,435.17 L635.63,435.24 L636.23,435.30 L636.83,435.36 L637.44,435.43 L638.04,435.49 L638.64,435.54 L639.25,435.60 L639.85,435.66 L640.45,435.71 L641.06,435.77 L641.66,435.82 L642.26,435.87 L642.87,435.92 L643.47,435.97 L644.07,436.02 L644.68,436.07 L645.28,436.11 L645.88,436.16 L646.49,436.20 L647.09,436.24 L647.69,436.29 L648.30,436.33 L648.90,436.37 L649.50,436.40 L650.11,436.44 L650.71,436.48 L651.31,436.52 L651.92,436.55 L652.52,436.59 L653.12,436.62 L653.73,436.65 L654.33,436.68 L654.93,436.72 L655.54,436.75 L656.14,436.78 L656.74,436.81 L657.35,436.83 L657.95,436.86 L658.55,436.89 L659.16,436.91 L659.76,436.94 L660.36,436.96 L660.97,436.99 L661.57,437.01 L662.17,437.04 L662.78,437.06 L663.38,437.08 L663.98,437.10 L664.59,437.12 L665.19,437.14 L665.79,437.16 L666.40,437.18 L667.00,437.20 L667.60,437.22 L668.21,437.24 L668.81,437.26 L669.41,437.27 L670.02,437.29 L670.62,437.31 L671.22,437.32 L671.83,437.34 L672.43,437.35 L673.03,437.37 L673.63,437.38 L674.24,437.39 L674.84,437.41 L675.44,437.42 L676.05,437.43 L676.65,437.44 L677.25,437.46 L677.86,437.47 L678.46,437.48 L679.06,437.49 L679.67,437.50 L680.27,437.51 L680.87,437.52 L681.48,437.53 L682.08,437.54 L682.68,437.55 L683.29,437.56 L683.89,437.57 L684.49,437.58 L685.10,437.59 L685.70,437.59 L686.30,437.60 L686.91,437.61 L687.51,437.62 L688.11,437.62 L688.72,437.63 L689.32,437.64 L689.92,437.64 L690.53,437.65 L691.13,437.66 L691.73,437.66 L692.34,437.67 L692.94,437.67 L693.54,437.68 L694.15,437.68 L694.75,437.69 L695.35,437.69 L695.96,437.70 L696.56,437.70 L697.16,437.71 L697.77,437.71 L698.37,437.72 L698.97,437.72 L699.58,437.73 L700.18,437.73 L700.78,437.73 L701.39,437.74 L701.99,437.74 L702.59,437.75 L703.20,437.75 L703.80,437.75 L704.40,437.76 L705.01,437.76 L705.61,437.76 L706.21,437.76 L706.82,437.77 L707.42,437.77 L708.02,437.77 L708.63,437.77 L709.23,437.78 L709.83,437.78 L710.44,437.78 L711.04,437.78 L711.64,437.79 L712.25,437.79 L712.85,437.79 L713.45,437.79 L714.06,437.79 L714.66,437.80 L715.26,437.80 L715.87,437.80 L716.47,437.80 L717.07,437.80 L717.68,437.81 L718.28,437.81 L718.88,437.81 L719.49,437.81 L720.09,437.81 L720.69,437.81 L721.30,437.81 L721.90,437.81 L722.50,437.82 L723.11,437.82 L723.71,437.82 L724.31,437.82 L724.92,437.82" stroke="#9a1aef" stroke-width="1.5"/>
<path d="M99.29,435.20 L99.90,435.12 L100.50,435.05 L101.10,434.97 L101.71,434.89 L102.31,434.80 L102.91,434.72 L103.52,434.63 L104.12,434.54 L104.72,434.45 L105.33,434.35 L105.93,434.26 L106.53,434.16 L107.14,434.06 L107.74,433.95 L108.34,433.85 L108.95,433.74 L109.55,433.63 L110.15,433.51 L110.76,433.39 L111.36,433.28 L111.96,433.15 L112.57,433.03 L113.17,432.90 L113.77,432.77 L114.38,432.63 L114.98,432.50 L115.58,432.36 L116.19,432.21 L116.79,432.07 L117.39,431.92 L118.00,431.76 L118.60,431.61 L119.20,431.45 L119.81,431.28 L120.41,431.11 L121.01,430.94 L121.62,430.77 L122.22,430.59 L122.82,430.40 L123.43,430.22 L124.03,430.03 L124.63,429.83 L125.24,429.63 L125.84,429.43 L126.44,429.22 L127.05,429.01 L127.65,428.79 L128.25,428.57 L128.86,428.35 L129.46,428.12 L130.06,427.88 L130.66,427.64 L131.27,427.40 L131.87,427.15 L132.47,426.89 L133.08,426.63 L133.68,426.37 L134.28,426.10 L134.89,425.82 L135.49,425.54 L136.09,425.26 L136.70,424.97 L137.30,424.67 L137.90,424.36 L138.51,424.06 L139.11,423.74 L139.71,423.42 L140.32,423.09 L140.92,422.76 L141.52,422.42 L142.13,422.08 L142.73,421.72 L143.33,421.37 L143.94,421.00 L144.54,420.63 L145.14,420.25 L145.75,419.87 L146.35,419.47 L146.95,419.08 L147.56,418.67 L148.16,418.26 L148.76,417.84 L149.37,417.41 L149.97,416.98 L150.57,416.53 L151.18,416.08 L151.78,415.63 L152.38,415.16 L152.99,414.69 L153.59,414.21 L154.19,413.72 L154.80,413.23 L155.40,412.72 L156.00,412.21 L156.61,411.69 L157.21,411.16 L157.81,410.62 L158.42,410.08 L159.02,409.52 L159.62,408.96 L160.23,408.39 L160.83,407.81 L161.43,407.22 L162.04,406.62 L162.64,406.01 L163.24,405.40 L163.85,404.77 L164.45,404.14 L165.05,403.49 L165.66,402.84 L166.26,402.18 L166.86,401.51 L167.47,400.83 L168.07,400.14 L168.67,399.44 L169.28,398.73 L169.88,398.01 L170.48,397.28 L171.09,396.54 L171.69,395.79 L172.29,395.03 L172.90,394.26 L173.50,393.48 L174.10,392.69 L174.71,391.89 L175.31,391.08 L175.91,390.26 L176.52,389.43 L177.12,388.59 L177.72,387.74 L178.33,386.88 L178.93,386.01 L179.53,385.13 L180.14,384.24 L180.74,383.33 L181.34,382.42 L181.95,381.50 L182.55,380.56 L183.15,379.62 L183.76,378.66 L184.36,377.70 L184.96,376.72 L185.57,375.73 L186.17,374.74 L186.77,373.73 L187.38,372.71 L187.98,371.68 L188.58,370.64 L189.19,369.59 L189.79,368.53 L190.39,367.46 L191.00,366.38 L191.60,365.29 L192.20,364.18 L192.80,363.07 L193.41,361.95 L194.01,360.82 L194.61,359.67 L195.22,358.52 L195.82,357.35 L196.42,356.18 L197.03,354.99 L197.63,353.80 L198.23,352.60 L198.84,351.38 L199.44,350.16 L200.04,348.92 L200.65,347.68 L201.25,346.43 L201.85,345.17 L202.46,343.89 L203.06,342.61 L203.66,341.32 L204.27,340.02 L204.87,338.71 L205.47,337.39 L206.08,336.07 L206.68,334.73 L207.28,333.39 L207.89,332.04 L208.49,330.68 L209.09,329.31 L209.70,327.93 L210.30,326.54 L210.90,325.15 L211.51,323.75 L212.11,322.34 L212.71,320.92 L213.32,319.50 L213.92,318.07 L214.52,316.63 L215.13,315.19 L215.73,313.74 L216.33,312.28 L216.94,310.82 L217.54,309.35 L218.14,307.87 L218.75,306.39 L219.35,304.90 L219.95,303.41 L220.56,301.91 L221.16,300.41 L221.76,298.91 L222.37,297.39 L222.97,295.88 L223.57,294.36 L224.18,292.83 L224.78,291.30 L225.38,289.77 L225.99,288.24 L226.59,286.70 L227.19,285.16 L227.80,283.62 L228.40,282.07 L229.00,280.52 L229.61,278.97 L230.21,277.42 L230.81,275.87 L231.42,274.32 L232.02,272.76 L232.62,271.21 L233.23,269.65 L233.83,268.10 L234.43,266.54 L235.04,264.99 L235.64,263.43 L236.24,261.88 L236.85,260.33 L237.45,258.78 L238.05,257.23 L238.66,255.69 L239.26,254.14 L239.86,252.60 L240.47,251.06 L241.07,249.53 L241.67,248.00 L242.28,246.47 L242.88,244.95 L243.48,243.43 L244.09,241.91 L244.69,240.41 L245.29,238.90 L245.90,237.40 L246.50,235.91 L247.10,234.43 L247.71,232.95 L248.31,231.47 L248.91,230.01 L249.52,228.55 L250.12,227.10 L250.72,225.66 L251.32,224.22 L251.93,222.80 L252.53,221.38 L253.13,219.97 L253.74,218.58 L254.34,217.19 L254.94,215.81 L255.55,214.44 L256.15,213.09 L256.75,211.74 L257.36,210.41 L257.96,209.08 L258.56,207.77 L259.17,206.47 L259.77,205.19 L260.37,203.91 L260.98,202.65 L261.58,201.41 L262.18,200.17 L262.79,198.95 L263.39,197.75 L263.99,196.56 L264.60,195.38 L265.20,194.22 L265.80,193.07 L266.41,191.94 L267.01,190.83 L267.61,189.73 L268.22,188.65 L268.82,187.58 L269.42,186.53 L270.03,185.50 L270.63,184.49 L271.23,183.49 L271.84,182.51 L272.44,181.55 L273.04,180.61 L273.65,179.68 L274.25,178.78 L274.85,177.89 L275.46,177.02 L276.06,176.18 L276.66,175.35 L277.27,174.54 L277.87,173.75 L278.47,172.98 L279.08,172.24 L279.68,171.51 L280.28,170.80 L280.89,170.12 L281.49,169.45 L282.09,168.81 L282.70,168.19 L283.30,167.59 L283.90,167.01 L284.51,166.45 L285.11,165.92 L285.71,165.40 L286.32,164.91 L286.92,164.44 L287.52,164.00 L288.13,163.58 L288.73,163.18 L289.33,162.80 L289.94,162.44 L290.54,162.11 L291.14,161.80 L291.75,161.52 L292.35,161.26 L292.95,161.02 L293.56,160.80 L294.16,160.61 L294.76,160.44 L295.37,160.30 L295.97,160.18 L296.57,160.08 L297.18,160.01 L297.78,159.96 L298.38,159.93 L298.99,159.93 L299.59,159.95 L300.19,159.99 L300.80,160.06 L301.40,160.15 L302.00,160.27 L302.61,160.41 L303.21,160.57 L303.81,160.75 L304.42,160.96 L305.02,161.20 L305.62,161.45 L306.23,161.73 L306.83,162.03 L307.43,162.36 L308.04,162.71 L308.64,163.08 L309.24,163.47 L309.85,163.89 L310.45,164.33 L311.05,164.79 L311.65,165.28 L312.26,165.79 L312.86,166.32 L313.46,166.87 L314.07,167.44 L314.67,168.03 L315.27,168.65 L315.88,169.29 L316.48,169.95 L317.08,170.63 L317.69,171.33 L318.29,172.05 L318.89,172.80 L319.50,173.56 L320.10,174.34 L320.70,175.15 L321.31,175.97 L321.91,176.81 L322.51,177.67 L323.12,178.56 L323.72,179.46 L324.32,180.38 L324.93,181.31 L325.53,182.27 L326.13,183.25 L326.74,184.24 L327.34,185.25 L327.94,186.27 L328.55,187.32 L329.15,188.38 L329.75,189.46 L330.36,190.55 L330.96,191.66 L331.56,192.79 L332.17,193.93 L332.77,195.09 L333.37,196.26 L333.98,197.45 L334.58,198.65 L335.18,199.87 L335.79,201.10 L336.39,202.34 L336.99,203.60 L337.60,204.87 L338.20,206.15 L338.80,207.45 L339.41,208.76 L340.01,210.08 L340.61,211.41 L341.22,212.75 L341.82,214.10 L342.42,215.47 L343.03,216.84 L343.63,218.23 L344.23,219.63 L344.84,221.03 L345.44,222.44 L346.04,223.87 L346.65,225.30 L347.25,226.74 L347.85,228.19 L348.46,229.64 L349.06,231.11 L349.66,232.58 L350.27,234.06 L350.87,235.54 L351.47,237.03 L352.08,238.53 L352.68,240.03 L353.28,241.54 L353.89,243.05 L354.49,244.57 L355.09,246.09 L355.70,247.62 L356.30,249.15 L356.90,250.68 L357.51,252.22 L358.11,253.76 L358.71,255.30 L359.32,256.85 L359.92,258.39 L360.52,259.94 L361.13,261.50 L361.73,263.05 L362.33,264.60 L362.94,266.16 L363.54,267.71 L364.14,269.27 L364.75,270.82 L365.35,272.38 L365.95,273.93 L366.56,275.48 L367.16,277.04 L367.76,278.59 L368.37,280.14 L368.97,281.69 L369.57,283.23 L370.18,284.78 L370.78,286.32 L371.38,287.86 L371.98,289.39 L372.59,290.92 L373.19,292.45 L373.79,293.98 L374.40,295.50 L375.00,297.02 L375.60,298.53 L376.21,300.04 L376.81,301.54 L377.41,303.04 L378.02,304.53 L378.62,306.02 L379.22,307.50 L379.83,308.98 L380.43,310.45 L381.03,311.92 L381.64,313.38 L382.24,314.83 L382.84,316.27 L383.45,317.71 L384.05,319.15 L384.65,320.57 L385.26,321.99 L385.86,323.40 L386.46,324.80 L387.07,326.20 L387.67,327.58 L388.27,328.96 L388.88,330.34 L389.48,331.70 L390.08,333.05 L390.69,334.40 L391.29,335.74 L391.89,337.07 L392.50,338.39 L393.10,339.70 L393.70,341.00 L394.31,342.29 L394.91,343.58 L395.51,344.85 L396.12,346.11 L396.72,347.37 L397.32,348.62 L397.93,349.85 L398.53,351.08 L399.13,352.29 L399.74,353.50 L400.34,354.70 L400.94,355.89 L401.55,357.06 L402.15,358.23 L402.75,359.39 L403.36,360.53 L403.96,361.67 L404.56,362.79 L405.17,363.91 L405.77,365.01 L406.37,366.11 L406.98,367.19 L407.58,368.27 L408.18,369.33 L408.79,370.38 L409.39,371.42 L409.99,372.46 L410.60,373.48 L411.20,374.49 L411.80,375.49 L412.41,376.48 L413.01,377.46 L413.61,378.42 L414.22,379.38 L414.82,380.33 L415.42,381.27 L416.03,382.19 L416.63,383.11 L417.23,384.01 L417.84,384.91 L418.44,385.79 L419.04,386.67 L419.65,387.53 L420.25,388.38 L420.85,389.23 L421.46,390.06 L422.06,390.88 L422.66,391.69 L423.27,392.49 L423.87,393.29 L424.47,394.07 L425.08,394.84 L425.68,395.60 L426.28,396.35 L426.89,397.09 L427.49,397.83 L428.09,398.55 L428.70,399.26 L429.30,399.96 L429.90,400.66 L430.51,401.34 L431.11,402.01 L431.71,402.68 L432.31,403.33 L432.92,403.98 L433.52,404.62 L434.12,405.24 L434.73,405.86 L435.33,406.47 L435.93,407.07 L436.54,407.66 L437.14,408.24 L437.74,408.82 L438.35,409.38 L438.95,409.94 L439.55,410.49 L440.16,411.03 L440.76,411.56 L441.36,412.08 L441.97,412.59 L442.57,413.10 L443.17,413.60 L443.78,414.09 L444.38,414.57 L444.98,415.05 L445.59,415.51 L446.19,415.97 L446.79,416.42 L447.40,416.87 L448.00,417.30 L448.60,417.73 L449.21,418.15 L449.81,418.57 L450.41,418.98 L451.02,419.38 L451.62,419.77 L452.22,420.16 L452.83,420.54 L453.43,420.91 L454.03,421.28 L454.64,421.64 L455.24,421.99 L455.84,422.34 L456.45,422.68 L457.05,423.01 L457.65,423.34 L458.26,423.66 L458.86,423.98 L459.46,424.29 L460.07,424.59 L460.67,424.89 L461.27,425.19 L461.88,425.47 L462.48,425.76 L463.08,426.03 L463.69,426.30 L464.29,426.57 L464.89,426.83 L465.50,427.09 L466.10,427.34 L466.70,427.58 L467.31,427.82 L467.91,428.06 L468.51,428.29 L469.12,428.52 L469.72,428.74 L470.32,428.96 L470.93,429.17 L471.53,429.38 L472.13,429.58 L472.74,429.78 L473.34,429.98 L473.94,430.17 L474.55,430.36 L475.15,430.54 L475.75,430.72 L476.36,430.90 L476.96,431.07 L477.56,431.24 L478.17,431.40 L478.77,431.57 L479.37,431.72 L479.98,431.88 L480.58,432.03 L481.18,432.18 L481.79,432.32 L482.39,432.46 L482.99,432.60 L483.60,432.74 L484.20,432.87 L484.80,433.00 L485.41,433.12 L486.01,433.25 L486.61,433.37 L487.22,433.48 L487.82,433.60 L488.42,433.71 L489.03,433.82 L489.63,433.93 L490.23,434.03 L490.84,434.13 L491.44,434.23 L492.04,434.33 L492.64,434.42 L493.25,434.52 L493.85,434.61 L494.45,434.70 L495.06,434.78 L495.66,434.87 L496.26,434.95 L496.87,435.03 L497.47,435.11 L498.07,435.18 L498.68,435.26 L499.28,435.33 L499.88,435.40 L500.49,435.47 L501.09,435.53 L501.69,435.60 L502.30,435.66 L502.90,435.72 L503.50,435.79 L504.11,435.84 L504.71,435.90 L505.31,435.96 L505.92,436.01 L506.52,436.06 L507.12,436.12 L507.73,436.17 L508.33,436.22 L508.93,436.26 L509.54,436.31 L510.14,436.35 L510.74,436.40 L511.35,436.44 L511.95,436.48 L512.55,436.52 L513.16,436.56 L513.76,436.60 L514.36,436.64 L514.97,436.68 L515.57,436.71 L516.17,436.75 L516.78,436.78 L517.38,436.81 L517.98,436.84 L518.59,436.87 L519.19,436.90 L519.79,436.93 L520.40,436.96 L521.00,436.99 L521.60,437.01 L522.21,437.04 L522.81,437.07 L523.41,437.09 L524.02,437.11 L524.62,437.14 L525.22,437.16 L525.83,437.18 L526.43,437.20 L527.03,437.22 L527.64,437.24 L528.24,437.26 L528.84,437.28 L529.45,437.30 L530.05,437.32 L530.65,437.33 L531.26,437.35 L531.86,437.37 L532.46,437.38 L533.07,437.40 L533.67,437.41 L534.27,437.43 L534.88,437.44 L535.48,437.45 L536.08,437.47 L536.69,437.48 L537.29,437.49 L537.89,437.50 L538.50,437.52 L539.10,437.53 L539.70,437.54 L540.31,437.55 L540.91,437.56 L541.51,437.57 L542.12,437.58 L542.72,437.59 L543.32,437.60 L543.93,437.60 L544.53,437.61 L545.13,437.62 L545.74,437.63 L546.34,437.64 L546.94,437.64 L547.55,437.65 L548.15,437.66 L548.75,437.66 L549.36,437.67 L549.96,437.68 L550.56,437.68 L551.17,437.69 L551.77,437.69 L552.37,437.70 L552.97,437.70 L553.58,437.71 L554.18,437.71 L554.78,437.72 L555.39,437.72 L555.99,437.73 L556.59,437.73 L557.20,437.74 L557.80,437.74 L558.40,437.75 L559.01,437.75 L559.61,437.75 L560.21,437.76 L560.82,437.76 L561.42,437.76 L562.02,437.77 L562.63,437.77 L563.23,437.77 L563.83,437.77 L564.44,437.78 L565.04,437.78 L565.64,437.78 L566.25,437.79 L566.85,437.79 L567.45,437.79 L568.06,437.79 L568.66,437.79 L569.26,437.80 L569.87,437.80 L570.47,437.80 L571.07,437.80 L571.68,437.80 L572.28,437.81 L572.88,437.81 L573.49,437.81 L574.09,437.81 L574.69,437.81 L575.30,437.81 L575.90,437.82 L576.50,437.82 L577.11,437.82 L577.71,437.82 L578.31,437.82 L578.92,437.82 L579.52,437.82 L580.12,437.82 L580.73,437.82 L581.33,437.83 L581.93,437.83 L582.54,437.83 L583.14,437.83 L583.74,437.83 L584.35,437.83 L584.95,437.83 L585.55,437.83 L586.16,437.83 L586.76,437.83 L587.36,437.83 L587.97,437.83 L588.57,437.83 L589.17,437.84 L589.78,437.84 L590.38,437.84 L590.98,437.84 L591.59,437.84 L592.19,437.84 L592.79,437.84 L593.40,437.84 L594.00,437.84 L594.60,437.84 L595.21,437.84 L595.81,437.84 L596.41,437.84 L597.02,437.84 L597.62,437.84 L598.22,437.84 L598.83,437.84 L599.43,437.84 L600.03,437.84 L600.64,437.84 L601.24,437.84 L601.84,437.84 L602.45,437.84 L603.05,437.84 L603.65,437.84 L604.26,437.84 L604.86,437.85 L605.46,437.85 L606.07,437.85 L606.67,437.85 L607.27,437.85 L607.88,437.85 L608.48,437.85 L609.08,437.85 L609.69,437.85 L610.29,437.85 L610.89,437.85 L611.50,437.85 L612.10,437.85 L612.70,437.85 L613.30,437.85 L613.91,437.85 L614.51,437.85 L615.11,437.85 L615.72,437.85 L616.32,437.85 L616.92,437.85 L617.53,437.85 L618.13,437.85 L618.73,437.85 L619.34,437.85 L619.94,437.85 L620.54,437.85 L621.15,437.85 L621.75,437.85 L622.35,437.85 L622.96,437.85 L623.56,437.85 L624.16,437.85 L624.77,437.85 L625.37,437.85 L625.97,437.85 L626.58,437.85 L627.18,437.85 L627.78,437.85 L628.39,437.85 L628.99,437.85 L629.59,437.85 L630.20,437.85 L630.80,437.85 L631.40,437.85 L632.01,437.85 L632.61,437.85 L633.21,437.85 L633.82,437.85 L634.42,437.85 L635.02,437.85 L635.63,437.85 L636.23,437.85 L636.83,437.85 L637.44,437.85 L638.04,437.85 L638.64,437.85 L639.25,437.85 L639.85,437.85 L640.45,437.85 L641.06,437.85 L641.66,437.85 L642.26,437.85 L642.87,437.85 L643.47,437.85 L644.07,437.85 L644.68,437.85 L645.28,437.85 L645.88,437.85 L646.49,437.85 L647.09,437.85 L647.69,437.85 L648.30,437.85 L648.90,437.85 L649.50,437.85 L650.11,437.85 L650.71,437.85 L651.31,437.85 L651.92,437.85 L652.52,437.85 L653.12,437.85 L653.73,437.85 L654.33,437.85 L654.93,437.85 L655.54,437.85 L656.14,437.85 L656.74,437.85 L657.35,437.85 L657.95,437.85 L658.55,437.85 L659.16,437.85 L659.76,437.85 L660.36,437.85 L660.97,437.85 L661.57,437.85 L662.17,437.85 L662.78,437.85 L663.38,437.85 L663.98,437.85 L664.59,437.85 L665.19,437.85 L665.79,437.85 L666.40,437.85 L667.00,437.85 L667.60,437.85 L668.21,437.85 L668.81,437.85 L669.41,437.85 L670.02,437.85 L670.62,437.85 L671.22,437.85 L671.83,437.85 L672.43,437.85 L673.03,437.85 L673.63,437.85 L674.24,437.85 L674.84,437.85 L675.44,437.85 L676.05,437.85 L676.65,437.85 L677.25,437.85 L677.86,437.85 L678.46,437.85 L679.06,437.85 L679.67,437.85 L680.27,437.85 L680.87,437.85 L681.48,437.85 L682.08,437.85 L682.68,437.85 L683.29,437.85 L683.89,437.85 L684.49,437.85 L685.10,437.85 L685.70,437.85 L686.30,437.85 L686.91,437.85 L687.51,437.85 L688.11,437.85 L688.72,437.85 L689.32,437.85 L689.92,437.85 L690.53,437.85 L691.13,437.85 L691.73,437.85 L692.34,437.85 L692.94,437.85 L693.54,437.85 L694.15,437.85 L694.75,437.85 L695.35,437.85 L695.96,437.85 L696.56,437.85 L697.16,437.85 L697.77,437.85 L698.37,437.85 L698.97,437.85 L699.58,437.85 L700.18,437.85 L700.78,437.85 L701.39,437.85 L701.99,437.85 L702.59,437.85 L703.20,437.85 L703.80,437.85 L704.40,437.85 L705.01,437.85 L705.61,437.85 L706.21,437.85 L706.82,437.85 L707.42,437.85 L708.02,437.85 L708.63,437.85 L709.23,437.85 L709.83,437.85 L710.44,437.85 L711.04,437.85 L711.64,437.85 L712.25,437.85 L712.85,437.85 L713.45,437.85 L714.06,437.85 L714.66,437.85 L715.26,437.85 L715.87,437.85 L716.47,437.85 L717.07,437.85 L717.68,437.85 L718.28,437.85 L718.88,437.85 L719.49,437.85 L720.09,437.85 L720.69,437.85 L721.30,437.85 L721.90,437.85 L722.50,437.85 L723.11,437.85 L723.71,437.85 L724.31,437.85 L724.92,437.85" stroke="#ffff00" stroke-width="1.5"/>
</g>
<text transform="translate(114.20,556.4) scale(0.94,1.06)" font-size="14" text-anchor="middle">0</text>
<text transform="translate(234.86,556.4) scale(0.94,1.06)" font-size="14" text-anchor="middle">100</text>
<text transform="translate(355.52,556.4) scale(0.94,1.06)" font-size="14" text-anchor="middle">200</text>
<text transform="translate(476.18,556.4) scale(0.94,1.06)" font-size="14" text-anchor="middle">300</text>
<text transform="translate(596.84,556.4) scale(0.94,1.06)" font-size="14" text-anchor="middle">400</text>
<text transform="translate(717.50,556.4) scale(0.94,1.06)" font-size="14" text-anchor="middle">500</text>
<text transform="translate(94.9,501.57) scale(0.94,1.06)" font-size="14" text-anchor="end">-0.2</text>
<text transform="translate(94.9,443.00) scale(0.94,1.06)" font-size="14" text-anchor="end">0</text>
<text transform="translate(94.9,384.43) scale(0.94,1.06)" font-size="14" text-anchor="end">0.2</text>
<text transform="translate(94.9,325.86) scale(0.94,1.06)" font-size="14" text-anchor="end">0.4</text>
<text transform="translate(94.9,267.28) scale(0.94,1.06)" font-size="14" text-anchor="end">0.6</text>
<text transform="translate(94.9,208.71) scale(0.94,1.06)" font-size="14" text-anchor="end">0.8</text>
<text transform="translate(94.9,150.14) scale(0.94,1.06)" font-size="14" text-anchor="end">1</text>
<text transform="translate(94.9,91.57) scale(0.94,1.06)" font-size="14" text-anchor="end">1.2</text>
<text x="412.85" y="45.5" font-size="19.2" text-anchor="middle">NGC253_S</text>
<text x="412.0" y="575.9" font-size="15" text-anchor="middle">LSRK RADIO velocity (km/s)</text>
<text transform="translate(62.7,300.1) rotate(-90)" x="0" y="0" font-size="15" text-anchor="middle">Flux</text>
<text x="126.6" y="474.80" font-size="10.67">0: peak = 0.147 K , centre = 147.689 km/s, FWHM = 44.459 km/s</text>
<text x="126.6" y="487.30" font-size="10.67">1: peak = 0.621 K , centre = 261.856 km/s, FWHM = 137.664 km/s</text>
<text x="126.6" y="499.80" font-size="10.67">2: peak = 0.949 K , centre = 152.958 km/s, FWHM = 127.613 km/s</text>
<rect x="576.05" y="69.8" width="135.55" height="104.1" fill="#fff" stroke="#000" stroke-width="1.4"/>
<path d="M589.2,85.5 H621.8" stroke="#999999" stroke-width="1.5" fill="none"/>
<text x="632.5" y="89.8" font-size="14">Spectrum</text>
<path d="M589.2,103.1 H621.8" stroke="#ff0000" stroke-width="1.5" fill="none"/>
<text x="632.5" y="108.2" font-size="14">Total Fit</text>
<path d="M589.2,120.4 H621.8" stroke="#ffa500" stroke-width="1.5" fill="none"/>
<text x="632.5" y="124.7" font-size="14">gauss0</text>
<path d="M589.2,139.2 H621.8" stroke="#9a1aef" stroke-width="1.5" fill="none"/>
<text x="632.5" y="142.8" font-size="14">gauss1</text>
<path d="M589.2,157.9 H621.8" stroke="#ffff00" stroke-width="1.5" fill="none"/>
<text x="632.5" y="161.9" font-size="14">gauss2</text>
</svg>
</body></html>
